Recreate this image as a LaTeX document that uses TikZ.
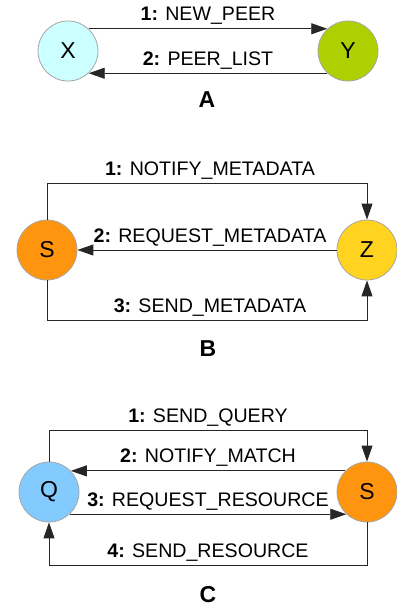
\documentclass[tikz,border=0pt]{standalone}
\usepackage{fontspec}
\setmainfont{Liberation Sans}
\usetikzlibrary{arrows.meta}
\definecolor{xcyan}{HTML}{CCFFFF}
\definecolor{ygreen}{HTML}{AECF00}
\definecolor{sorange}{HTML}{FF950E}
\definecolor{zyellow}{HTML}{FFD320}
\definecolor{qblue}{HTML}{83CAFF}
\begin{document}
\begin{tikzpicture}[x=1pt,y=-1pt,
    peer/.style={circle,draw=black!35,line width=0.8pt,minimum size=60pt,inner sep=0pt,font=\fontsize{23}{23}\selectfont},
    msg/.style={draw=black!85,line width=0.9pt,-{Triangle[length=16pt,width=11pt]}},
    lbl/.style={anchor=base,yshift=8pt,inner sep=0pt,font=\fontsize{19.6}{20}\selectfont},
    caption/.style={font=\fontsize{23}{23}\selectfont\bfseries}]
        \useasboundingbox (0,0) rectangle (396,610);

        % A
        \node[peer,fill=xcyan] (x) at (68,51) {X};
        \node[peer,fill=ygreen] (y) at (348,51) {Y};
        \draw[msg] (x.47) -- node[lbl] {\textbf{1:} NEW\_PEER} (y.133);
        \draw[msg] (y.-133) -- node[lbl] {\textbf{2:} PEER\_LIST} (x.-47);
        \node[caption] (capa) at (207,100) {A};

        % B
        \node[peer,fill=sorange] (sb) at (47,250) {S};
        \node[peer,fill=zyellow] (zb) at (367,250) {Z};
        \draw[msg] (sb.north) -- ++(0,-36) -| node[lbl,pos=0.25,xshift=3pt] {\textbf{1:} NOTIFY\_METADATA} (zb.north);
        \draw[msg] (zb.west) -- node[lbl,xshift=3pt] {\textbf{2:} REQUEST\_METADATA} (sb.east);
        \draw[msg] (sb.south) -- ++(0,40) -| node[lbl,pos=0.25,xshift=3pt] {\textbf{3:} SEND\_METADATA} (zb.south);
        \node[caption] (capb) at (208,349) {B};

        % C
        \node[peer,fill=qblue] (qc) at (49,492) {Q};
        \node[peer,fill=sorange] (sc) at (367,492) {S};
        \draw[msg] (qc.north) -- ++(0,-31) -| node[lbl,pos=0.25] {\textbf{1:} SEND\_QUERY} (sc.north);
        \draw[msg] (sc.136) -- node[lbl] {\textbf{2:} NOTIFY\_MATCH} (qc.44);
        \draw[msg] (qc.-47) -- node[lbl] {\textbf{3:} REQUEST\_RESOURCE} (sc.-133);
        \draw[msg] (sc.south) -- ++(0,43) -| node[lbl,pos=0.25] {\textbf{4:} SEND\_RESOURCE} (qc.south);
        \node[caption] (capc) at (208,595) {C};
    \end{tikzpicture}
\end{document}
